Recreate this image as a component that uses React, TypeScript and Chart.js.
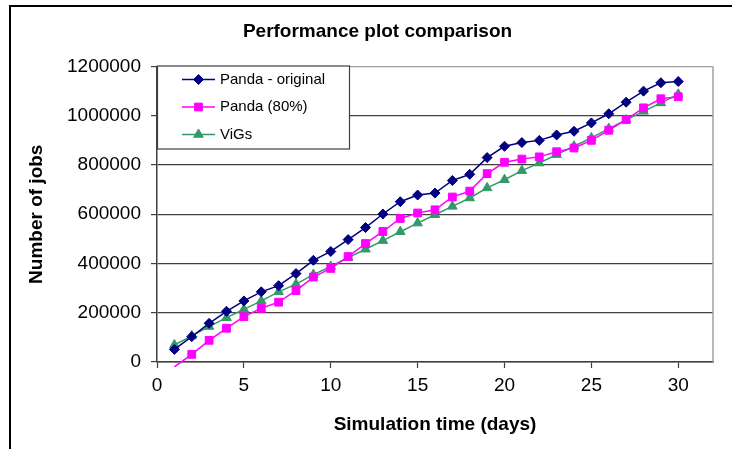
import React, { useEffect, useRef } from 'react';
import { Chart, registerables } from 'chart.js';
import { drawPoint } from 'chart.js/helpers';

Chart.register(...registerables);

const FONT = "'Liberation Sans', Arial, sans-serif";

const chartTitle = 'Performance plot comparison';
const xTitle = 'Simulation time (days)';
const yTitle = 'Number of jobs';

const days = [1, 2, 3, 4, 5, 6, 7, 8, 9, 10, 11, 12, 13, 14, 15, 16, 17, 18, 19, 20, 21, 22, 23, 24, 25, 26, 27, 28, 29, 30];

const xTickValues = [0, 5, 10, 15, 20, 25, 30];
const yTickValues = [0, 200000, 400000, 600000, 800000, 1000000, 1200000];

const seriesLabels = ['Panda - original', 'Panda (80%)', 'ViGs'];

const pandaOriginal = [51000, 103000, 157000, 206000, 248000, 285000, 310000, 359000, 413000, 449000, 497000, 546000, 601000, 651000, 678000, 686000, 737000, 762000, 830000, 876000, 891000, 900000, 922000, 937000, 971000, 1008000, 1055000, 1100000, 1134000, 1139000];
const panda80 = [-20000, 31000, 88000, 137000, 184000, 218000, 243000, 290000, 345000, 380000, 428000, 481000, 530000, 583000, 605000, 618000, 670000, 694000, 765000, 811000, 824000, 833000, 854000, 869000, 900000, 941000, 984000, 1032000, 1069000, 1077000];
const vigs = [69000, 106000, 144000, 180000, 214000, 248000, 285000, 316000, 355000, 388000, 424000, 458000, 493000, 529000, 564000, 598000, 632000, 666000, 707000, 740000, 777000, 808000, 842000, 876000, 910000, 948000, 983000, 1018000, 1052000, 1087000];

const seriesValues = [pandaOriginal, panda80, vigs];
const seriesColors = ['#000080', '#FF00FF', '#339966'];
const seriesMarkers = ['rectRot', 'rect', 'triangle'];
const seriesRadius = [5, 5.5, 5.5];

// outer chart frame (its right edge lies beyond the visible window)
const FRAME_LEFT = 10;
const FRAME_TOP = 6;
const FRAME_RIGHT = 745;

const framePlugin = {
  id: 'frame',
  beforeDraw(chart: any) {
    const { ctx, width, height } = chart;
    ctx.save();
    ctx.fillStyle = '#ffffff';
    ctx.fillRect(0, 0, width, height);
    ctx.strokeStyle = '#000000';
    ctx.lineWidth = 2;
    ctx.beginPath();
    ctx.moveTo(FRAME_LEFT, height);
    ctx.lineTo(FRAME_LEFT, FRAME_TOP);
    ctx.lineTo(width, FRAME_TOP);
    ctx.stroke();
    ctx.fillStyle = '#000000';
    ctx.font = `bold 19px ${FONT}`;
    ctx.textAlign = 'center';
    ctx.textBaseline = 'middle';
    ctx.fillText(chartTitle, (FRAME_LEFT + FRAME_RIGHT) / 2, 32);
    ctx.restore();
  },
  beforeDatasetsDraw(chart: any) {
    const { ctx, chartArea } = chart;
    ctx.save();
    ctx.strokeStyle = '#a0a0a0';
    ctx.lineWidth = 1.5;
    ctx.beginPath();
    ctx.moveTo(chartArea.right, chartArea.top);
    ctx.lineTo(chartArea.right, chartArea.bottom);
    ctx.stroke();
    ctx.restore();
  },
  afterDraw(chart: any) {
    const { ctx, chartArea } = chart;
    const x0 = chartArea.left;
    const y0 = chartArea.top - 1;
    const w = 192;
    const h = 83;
    ctx.save();
    ctx.fillStyle = '#ffffff';
    ctx.fillRect(x0, y0, w, h);
    ctx.strokeStyle = '#404040';
    ctx.lineWidth = 1.2;
    ctx.strokeRect(x0 + 0.5, y0 + 0.5, w, h);
    chart.data.datasets.forEach((ds: any, i: number) => {
      const y = y0 + 14 + i * 27.5;
      ctx.strokeStyle = ds.borderColor;
      ctx.lineWidth = 1.5;
      ctx.beginPath();
      ctx.moveTo(x0 + 25, y);
      ctx.lineTo(x0 + 58, y);
      ctx.stroke();
      ctx.fillStyle = ds.pointBackgroundColor;
      ctx.strokeStyle = ds.pointBorderColor;
      ctx.lineWidth = 1;
      drawPoint(ctx, { pointStyle: ds.pointStyle, radius: seriesRadius[i], borderWidth: 1, rotation: 0 } as any, x0 + 41.5, y);
      ctx.fillStyle = '#000000';
      ctx.font = `15px ${FONT}`;
      ctx.textAlign = 'left';
      ctx.textBaseline = 'middle';
      ctx.fillText(ds.label, x0 + 63, y);
    });
    ctx.restore();
  },
};

export default function App() {
  const canvasRef = useRef<HTMLCanvasElement | null>(null);

  useEffect(() => {
    const canvas = canvasRef.current;
    if (!canvas) return;
    const datasets = seriesLabels.map((label, i) => ({
      label,
      data: days.map((d, j) => ({ x: d, y: seriesValues[i][j] })),
      borderColor: seriesColors[i],
      backgroundColor: seriesColors[i],
      pointBackgroundColor: seriesColors[i],
      pointBorderColor: seriesColors[i],
      pointStyle: seriesMarkers[i],
      pointRadius: (c: any) => (c.parsed && c.parsed.y < 0 ? 0 : seriesRadius[i]),
      pointBorderWidth: 1,
      borderWidth: 1.5,
      tension: 0,
      clip: { left: false, top: false, right: false, bottom: 5 },
    }));
    const chart = new Chart(canvas, {
      type: 'line',
      data: { datasets } as any,
      plugins: [framePlugin],
      options: {
        responsive: false,
        animation: false,
        events: [],
        layout: { padding: { left: 0, right: 19, top: 66.5, bottom: 0 } },
        plugins: {
          legend: { display: false },
          tooltip: { enabled: false },
          title: { display: false },
        },
        scales: {
          x: {
            type: 'linear',
            min: 0,
            max: 32,
            afterBuildTicks: (s: any) => {
              s.ticks = xTickValues.map((v) => ({ value: v }));
            },
            afterFit: (s: any) => {
              s.height = 87;
            },
            grid: { drawOnChartArea: false, drawTicks: true, tickLength: 6, tickColor: '#404040', tickWidth: 1.2 },
            border: { color: '#404040', width: 1.5 },
            ticks: { color: '#000000', font: { family: FONT, size: 19 }, padding: 6, maxRotation: 0, autoSkip: false },
            title: {
              display: true,
              text: xTitle,
              color: '#000000',
              font: { family: FONT, size: 19, weight: 'bold' },
              padding: { top: 0, bottom: 13 },
            },
          },
          y: {
            type: 'linear',
            min: 0,
            max: 1200000,
            afterBuildTicks: (s: any) => {
              s.ticks = yTickValues.map((v) => ({ value: v }));
            },
            afterFit: (s: any) => {
              s.width = 157;
            },
            grid: {
              color: (c: any) => (c.tick && c.tick.value === 1200000 ? '#a0a0a0' : '#404040'),
              lineWidth: 1.2,
              tickLength: 6,
              tickColor: '#404040',
              tickWidth: 1.2,
            },
            border: { color: '#404040', width: 1.5 },
            ticks: {
              color: '#000000',
              font: { family: FONT, size: 19 },
              padding: 10,
              callback: (v: any) => String(v),
            },
            title: {
              display: true,
              text: yTitle,
              color: '#000000',
              font: { family: FONT, size: 19, weight: 'bold' },
              padding: { top: 25, bottom: 0 },
            },
          },
        },
      } as any,
    });
    return () => chart.destroy();
  }, []);

  return (
    <div style={{ position: 'fixed', left: 0, top: 0, width: 732, height: 449, background: '#fff' }}>
      <canvas ref={canvasRef} width={732} height={449} style={{ display: 'block', width: 732, height: 449 }} />
    </div>
  );
}
